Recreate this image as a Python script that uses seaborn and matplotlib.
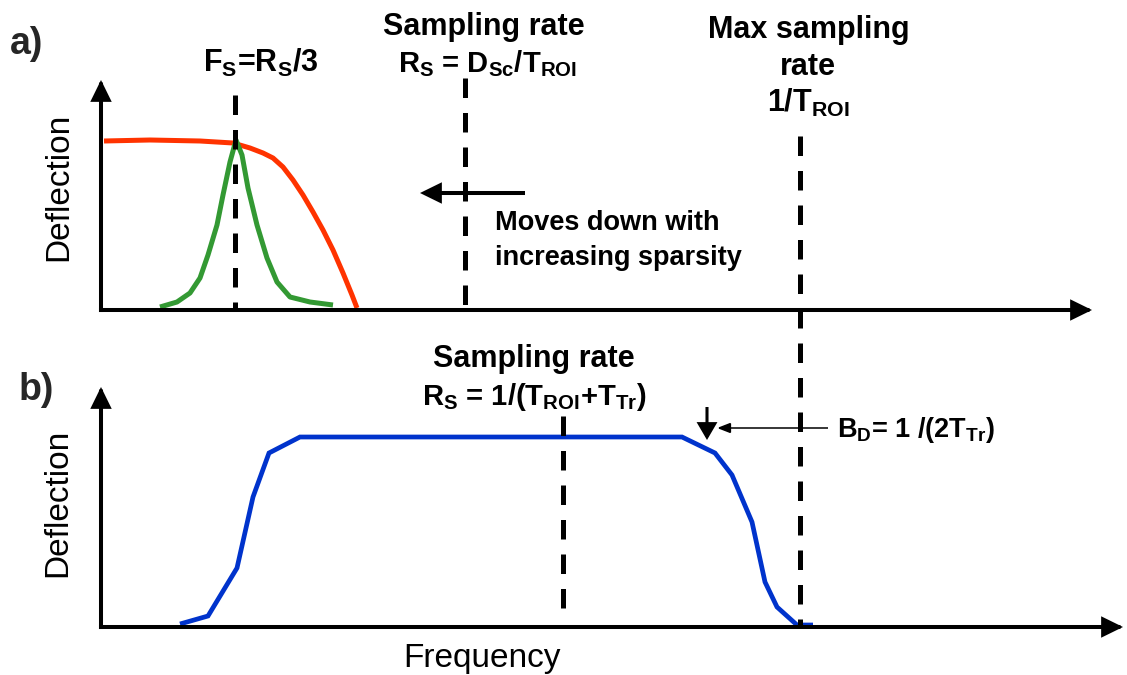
import matplotlib
matplotlib.use("Agg")
import matplotlib.pyplot as plt
import seaborn as sns
import pandas as pd

# ---------------- data (frequency / deflection, arbitrary units) ----------------
# panel a: red = response curve, green = signal spectrum
red_freq = [0.3, 4.9, 9.9, 13.2, 14.9, 16.2, 17.2, 18.2, 19.2, 20.2, 21.2, 22.2,
            23.2, 24.2, 25.1, 25.6]
red_defl = [16.9, 17.0, 16.9, 16.7, 16.2, 15.7, 15.2, 14.3, 13.0, 11.5, 9.8, 8.0,
            6.0, 3.7, 1.5, 0.2]

green_freq = [5.9, 7.6, 8.9, 9.9, 10.7, 11.6, 12.2, 12.9, 13.5, 14.1, 14.7, 15.6,
              16.6, 17.6, 18.9, 20.9, 23.2]
green_defl = [0.3, 0.8, 1.7, 3.2, 5.5, 8.5, 11.5, 14.8, 17.0, 15.5, 12.2, 8.5,
              5.2, 2.8, 1.3, 0.8, 0.5]

# panel b: blue = band-pass response
blue_freq = [7.9, 10.7, 13.6, 15.2, 16.8, 19.9, 58.1, 61.4, 63.1, 65.1, 66.4, 67.6, 69.6, 71.2]
blue_defl = [0.3, 1.1, 5.9, 13.0, 17.4, 19.0, 19.0, 17.4, 15.2, 10.5, 4.5, 2.0, 0.2, 0.2]

# marker frequencies (dashed lines)
fs_freq = 13.4      # F_S = R_S/3
rs_a_freq = 36.4    # sampling rate, panel a
max_freq = 69.9     # max sampling rate
rs_b_freq = 46.2    # sampling rate, panel b
bd_freq = 60.6      # B_D marker

# ---------------- style ----------------
sns.set_theme(style="white")
plt.rcParams["font.family"] = ["Liberation Sans", "DejaVu Sans"]
plt.rcParams["mathtext.fontset"] = "custom"
for k in ("rm", "it", "bf", "sf"):
    plt.rcParams["mathtext." + k] = "Liberation Sans:bold"
plt.rcParams["mathtext.default"] = "rm"

RED, GREEN, BLUE = "#FF3300", "#339933", "#0033CC"
A_OFF = 31.7   # vertical offset of panel a

fig = plt.figure(figsize=(11.27, 6.75), dpi=100)
ax = fig.add_axes([0, 0, 1, 1])

BOLD = dict(fontsize=22, fontweight="bold", color="black")
MATH = dict(fontsize=21, fontweight="bold", color="black")
SMALL = dict(fontsize=19.5, fontweight="bold", color="black")
REG = dict(fontsize=24, color="black")


def arrow(x0, y0, x1, y1, lw=2.9, hl=0.55, hw=0.27, ms=20, cap="butt"):
    ax.annotate("", xy=(x1, y1), xytext=(x0, y0),
                arrowprops=dict(arrowstyle=f"-|>,head_length={hl},head_width={hw}",
                                lw=lw, color="black", shrinkA=0, shrinkB=0,
                                mutation_scale=ms, joinstyle="miter", capstyle=cap))


def dashed(x, y0, y1):
    ax.plot([x, x], [y0, y1], color="black", lw=3.6,
            linestyle=(0, (3.9, 3.0)), solid_capstyle="butt", dash_capstyle="butt")


# ---------------- curves ----------------
df_red = pd.DataFrame({"f": red_freq, "d": [v + A_OFF for v in red_defl]})
df_green = pd.DataFrame({"f": green_freq, "d": [v + A_OFF for v in green_defl]})
df_blue = pd.DataFrame({"f": blue_freq, "d": blue_defl})
sns.lineplot(data=df_red, x="f", y="d", ax=ax, color=RED, lw=3.6, sort=False,
             estimator=None, solid_joinstyle="round", solid_capstyle="butt")
sns.lineplot(data=df_green, x="f", y="d", ax=ax, color=GREEN, lw=3.6, sort=False,
             estimator=None, solid_joinstyle="round", solid_capstyle="butt")
sns.lineplot(data=df_blue, x="f", y="d", ax=ax, color=BLUE, lw=3.4, sort=False,
             estimator=None, solid_joinstyle="miter", solid_capstyle="butt")

ax.set_xlim(-10.1, 102.6)
ax.set_ylim(-4.8, 62.7)
ax.set_axis_off()

# ---------------- axes (arrows) ----------------
arrow(0, A_OFF, 0, 54.7, cap="projecting")
arrow(0, A_OFF, 99.1, A_OFF, cap="projecting")
arrow(0, 0, 0, 24.0, cap="projecting")
arrow(0, 0, 102.2, 0, cap="projecting")

# ---------------- dashed lines ----------------
dashed(fs_freq, A_OFF + 21.5, A_OFF)
dashed(rs_a_freq, A_OFF + 23.2, A_OFF)
dashed(max_freq, 49.1, -0.1)
dashed(rs_b_freq, 21.1, 1.2)

# ---------------- annotation arrows ----------------
arrow(42.4, 43.4, 31.9, 43.4)                                         # moves down
arrow(bd_freq, 22.0, bd_freq, 18.7, lw=2.2, hl=0.6, hw=0.35, ms=16)   # B_D marker
arrow(72.7, 19.9, 61.6, 19.9, lw=1.1, hl=0.9, hw=0.35, ms=9)          # thin pointer

# ---------------- texts ----------------
ax.text(-7.4, 58.3, "a)", fontsize=27, fontweight="bold", ha="center", va="center")
ax.text(-6.5, 23.7, "b)", fontsize=27, fontweight="bold", ha="center", va="center")

ax.text(16.0, 55.5, "$F_S$=$R_S$/3", ha="center", va="baseline", **BOLD)
ax.text(38.3, 59.2, "Sampling rate", ha="center", va="baseline", **BOLD)
ax.text(38.6, 55.5, "$R_S$ = $D_{Sc}$/$T_{ROI}$", ha="center", va="baseline", **MATH)
ax.text(70.8, 58.9, "Max sampling", ha="center", va="baseline", **BOLD)
ax.text(70.7, 55.2, "rate", ha="center", va="baseline", **BOLD)
ax.text(70.7, 51.5, "1/$T_{ROI}$", ha="center", va="baseline", **BOLD)
ax.text(39.4, 39.7, "Moves down with", ha="left", va="baseline", **SMALL)
ax.text(39.4, 36.2, "increasing sparsity", ha="left", va="baseline", **SMALL)

ax.text(43.3, 26.0, "Sampling rate", ha="center", va="baseline", **BOLD)
ax.text(43.3, 22.2, "$R_S$ = 1/($T_{ROI}$+$T_{Tr}$)", ha="center", va="baseline", **MATH)
ax.text(73.6, 19.0, "$B_D$= 1 /(2$T_{Tr}$)", ha="left", va="baseline", **SMALL)

ax.text(-4.2, 44.0, "Deflection", rotation=90, ha="center", va="center", **REG)
ax.text(-4.3, 12.4, "Deflection", rotation=90, ha="center", va="center", **REG)
ax.text(38.1, -4.0, "Frequency", ha="center", va="baseline", **REG)

fig.savefig("out.png", dpi=100)
